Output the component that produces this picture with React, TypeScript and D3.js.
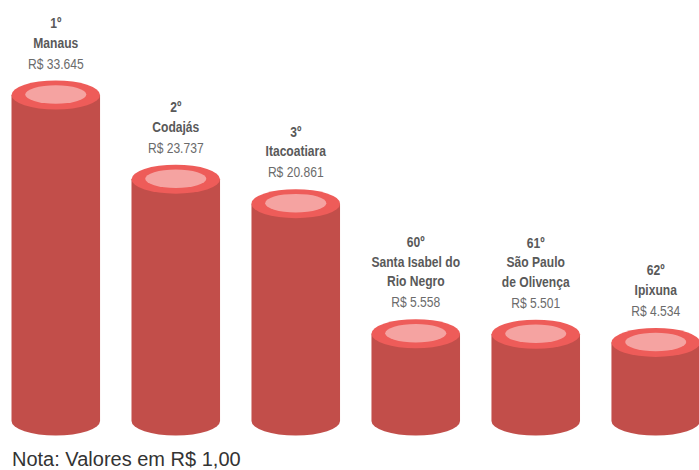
import React from "react";
import * as d3 from "d3";

const ranks = ["1º", "2º", "3º", "60º", "61º", "62º"];
const names = [["Manaus"], ["Codajás"], ["Itacoatiara"], ["Santa Isabel do", "Rio Negro"], ["São Paulo", "de Olivença"], ["Ipixuna"]];
const values = [33645, 23737, 20861, 5558, 5501, 4534];
const valueLabels = ["R$ 33.645", "R$ 23.737", "R$ 20.861", "R$ 5.558", "R$ 5.501", "R$ 4.534"];
const note = "Nota: Valores em R$ 1,00";

const W = 699;
const H = 470;
const baseY = 421;
const ry = 14.5;

function NarrowText(props: { x: number; y: number; bold?: boolean; fill: string; children: React.ReactNode }) {
  return (
    <text
      transform={`translate(${props.x},${props.y}) scale(0.78,1)`}
      textAnchor="middle"
      fontFamily="'Liberation Sans', Arial, sans-serif"
      fontSize={15.5}
      fontWeight={props.bold ? "bold" : "normal"}
      fill={props.fill}
    >
      {props.children}
    </text>
  );
}

export default function App() {
  const x = d3.scaleBand<number>().domain(d3.range(values.length)).range([11.5, 700]).paddingInner(0.262).paddingOuter(0);
  const h = d3.scaleLinear().domain([0, d3.max(values) as number]).range([40, 326]);
  const bw = x.bandwidth();
  const rx = bw / 2;
  return (
    <svg width={W} height={H} style={{ position: "absolute", left: 0, top: 0, background: "#fff" }}>
      {values.map((v, i) => {
        const cx = (x(i) as number) + rx;
        const topY = baseY - h(v);
        const sidePath = `M${cx - rx},${topY} L${cx - rx},${baseY} A${rx},${ry} 0 0 0 ${cx + rx},${baseY} L${cx + rx},${topY} Z`;
        const lines = names[i];
        const valueBase = topY - ry - 12;
        const lh = 19.5;
        return (
          <g key={i}>
            <path d={sidePath} fill="#C24E4A" />
            <ellipse cx={cx} cy={topY} rx={rx} ry={ry} fill="#EE5C59" />
            <ellipse cx={cx} cy={topY - 0.5} rx={rx * 0.69} ry={ry * 0.64} fill="#F5A3A1" />
            <NarrowText x={cx} y={valueBase} fill="#6b6b6b">{valueLabels[i]}</NarrowText>
            {lines.map((ln, j) => (
              <NarrowText key={j} x={cx} y={valueBase - 21 - (lines.length - 1 - j) * lh} bold fill="#595959">{ln}</NarrowText>
            ))}
            <NarrowText x={cx} y={valueBase - 21 - lines.length * lh} bold fill="#595959">{ranks[i]}</NarrowText>
          </g>
        );
      })}
      <text x={12} y={466} fontSize={20} fontFamily="'Liberation Sans', Arial, sans-serif" fill="#333">{note}</text>
    </svg>
  );
}
